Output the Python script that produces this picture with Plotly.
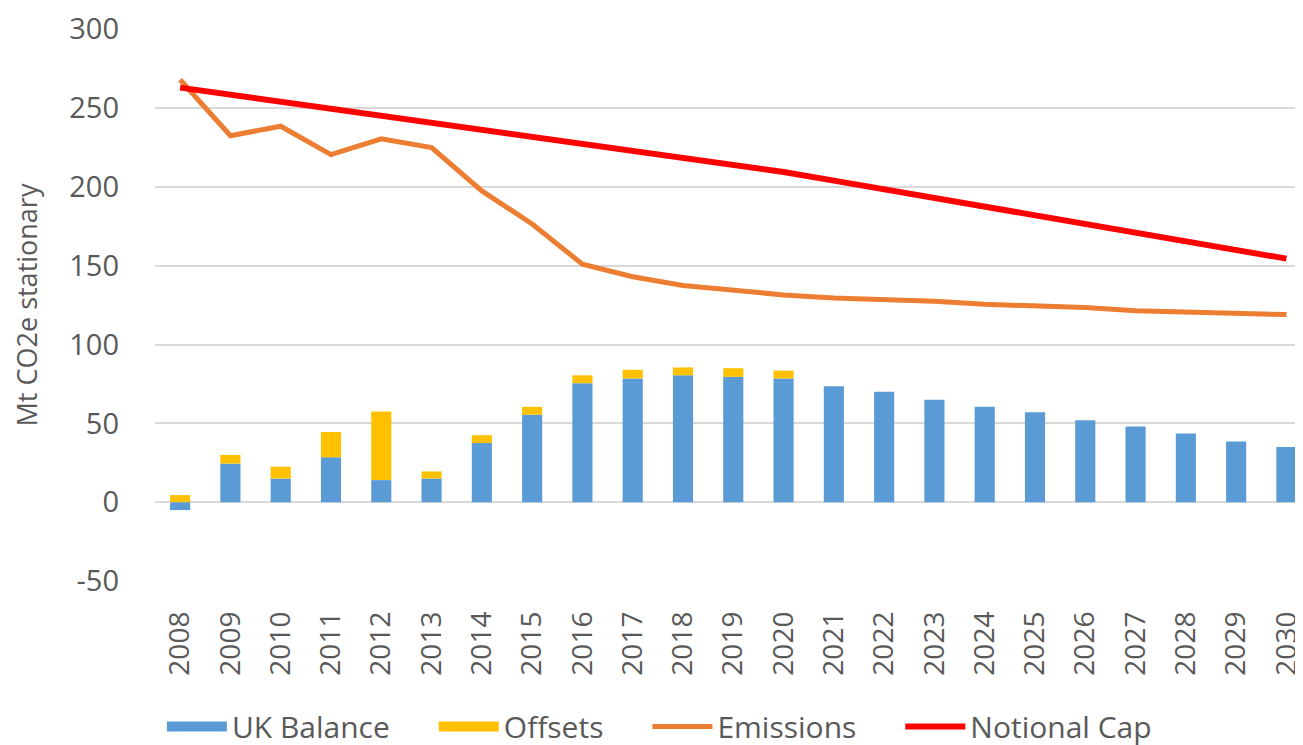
import plotly.graph_objects as go

years = [str(y) for y in range(2008, 2031)]

uk_balance = [-5, 24.5, 15, 28.5, 14, 15, 37.5, 55.5, 75.5, 78.5, 80.5, 79.5, 78.5,
              73.5, 70, 65, 60.5, 57, 52, 48, 43.5, 38.5, 35]
offsets = [4.5, 5.5, 7.5, 16, 43.5, 4.5, 5, 5, 5, 5.5, 5, 5.5, 5,
           0, 0, 0, 0, 0, 0, 0, 0, 0, 0]
emissions = [268, 232.5, 238.5, 220.5, 230.5, 225, 197.5, 176.5, 151, 143, 137.5, 134.5, 131.5,
             129.5, 128.5, 127.5, 125.5, 124.5, 123.5, 121.5, 120.5, 119.5, 119]
notional_cap = [263, 258.5, 254, 250, 245.5, 240.5, 236.5, 231.5, 227, 223, 218.5, 214, 209.5,
                204, 198.5, 193, 187.5, 182, 176.5, 171, 165.5, 160, 154.5]

y_ticks = [-50, 0, 50, 100, 150, 200, 250, 300]
y_tick_text = ["-50", "0", "50", "100", "150", "200", "250", "300"]

grey = "#595959"
font = "Open Sans"
blue = "#5B9BD5"
yellow = "#FFC000"
pad = "\u00a0" * 5  # extra room between legend entries

fig = go.Figure()
# bars (legend drawn with the dummy traces below so the swatches are wide boxes)
fig.add_trace(go.Bar(x=years, y=uk_balance, name="UK Balance", marker_color=blue,
                     marker_line_width=0, showlegend=False))
fig.add_trace(go.Bar(x=years, y=offsets, name="Offsets", marker_color=yellow,
                     marker_line_width=0, showlegend=False))
fig.add_trace(go.Scatter(x=[None], y=[None], name="UK Balance" + pad, mode="lines",
                         line=dict(color=blue, width=20)))
fig.add_trace(go.Scatter(x=[None], y=[None], name="Offsets" + pad, mode="lines",
                         line=dict(color=yellow, width=20)))
fig.add_trace(go.Scatter(x=years, y=emissions, name="Emissions" + pad, mode="lines",
                         line=dict(color="#ED7D31", width=5)))
fig.add_trace(go.Scatter(x=years, y=notional_cap, name="Notional Cap", mode="lines",
                         line=dict(color="#FF0000", width=6)))

fig.update_layout(
    width=1295, height=737,
    margin=dict(l=147, r=0, t=12, b=164),
    barmode="relative", bargap=0.6,
    plot_bgcolor="white", paper_bgcolor="white",
    font=dict(family=font, size=26, color=grey),
    legend=dict(orientation="h", xref="container", yref="container",
                x=0.503, xanchor="center", y=0.025, yanchor="middle",
                font=dict(size=30, color=grey), itemwidth=60,
                traceorder="normal"),
    xaxis=dict(type="category", range=[-0.5, 22.25], tickangle=-90,
               tickfont=dict(size=28, color=grey), showgrid=False,
               ticks="", showline=False, ticklabelstandoff=24),
    yaxis=dict(range=[-50, 300.2], tickvals=y_ticks, ticktext=y_tick_text,
               showgrid=True, gridcolor="#D9D9D9", ticklabeloverflow="allow",
               gridwidth=1.5, zeroline=True, zerolinecolor="#D9D9D9", zerolinewidth=1.5,
               tickfont=dict(size=29, color=grey), ticks="", ticklabelstandoff=35,
               title=dict(text="Mt CO2e stationary", font=dict(size=27, color=grey),
                          standoff=32)),
)

fig.write_html("out.html")
